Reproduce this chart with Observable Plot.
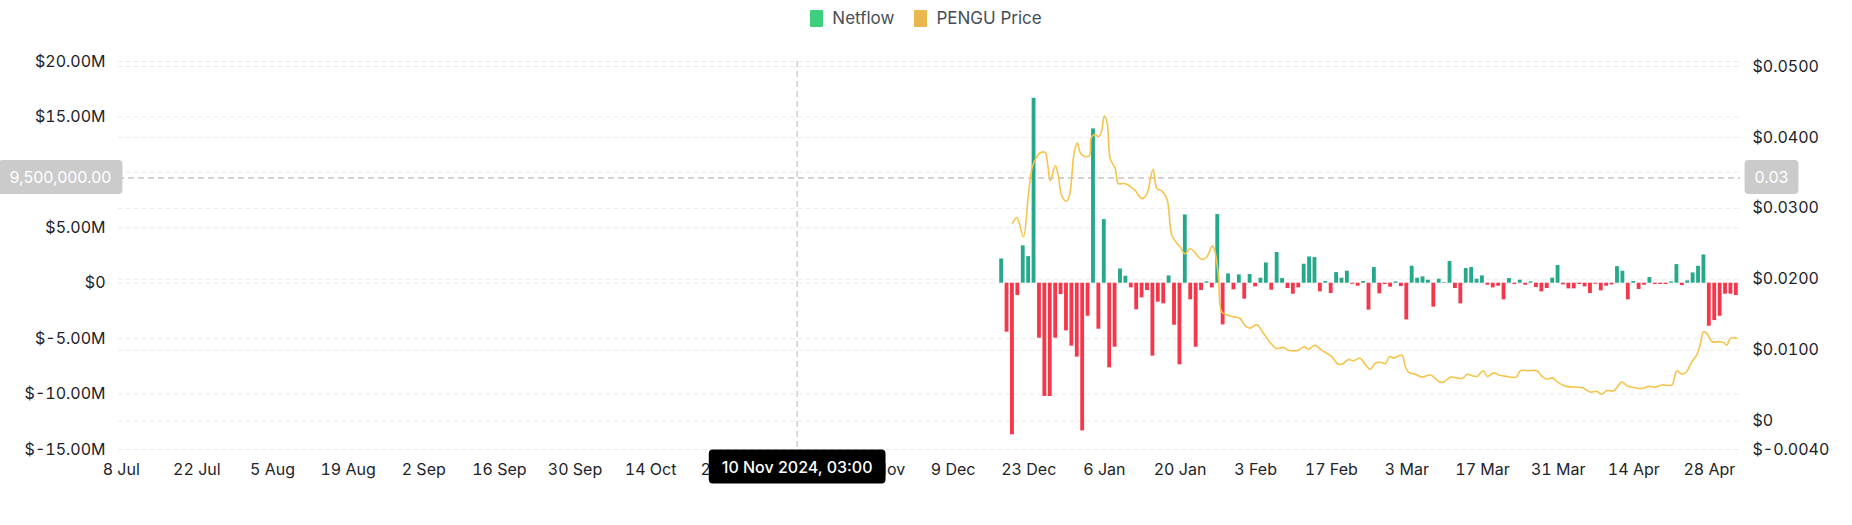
<!DOCTYPE html>
<html>
<head>
<meta charset="utf-8">
<script src="https://cdn.jsdelivr.net/npm/d3@7"></script>
<script src="https://cdn.jsdelivr.net/npm/@observablehq/plot@0.6"></script>
<style>
  body { margin: 0; background: #ffffff; font-family: Inter, "Noto Sans", sans-serif; }
  #legend { height: 36px; display: flex; justify-content: center; align-items: center; font-size: 17px; color: #474d57; }
  .item { display: flex; align-items: center; margin: 0 10px; }
  .sw { width: 13px; height: 17px; margin-right: 9px; border-radius: 1px; }
</style>
</head>
<body>
<div id="legend"></div>
<div id="chart"></div>
<script>
// ---------- data ----------
const seriesNames = ["Netflow", "PENGU Price"];
const seriesColors = ["#3dcf7e", "#e9b84c"];

const netflowStart = "2024-12-18"; // one bar per day from this date
const netflowMillions = [
  2.19, -4.42, -13.68, -1.11, 3.37, 2.40, 16.68, -4.96, -10.22, -10.22, -4.96, -1.02, -4.30, -5.68,
  -6.67, -13.32, -2.98, 13.92, -4.15, 5.74, -7.63, -5.77, 1.29, 0.63, -0.42, -2.40, -1.32, -0.66, -6.58, -1.71,
  -1.86, 0.66, -3.79, -7.36, 6.16, -1.50, -5.77, -0.66, 0.12, -0.42, 6.19, -3.76, 0.84, -0.60, 0.75,
  -1.44, 0.78, -0.33, 0.45, 1.83, -0.63, 2.77, 0.42, -0.48, -0.99, -0.42, 1.71, 2.37, 2.31, -0.78, 0.15,
  -0.93, 0.96, 0.45, 1.08, -0.09, -0.27, 0.15, -2.43, 1.41, -0.96, -0.12, -0.36,
  0.12, -0.30, -3.31, 1.53, 0.45, 0.57, 0.27, -2.16, 0.36, 0.06, 1.95, -0.48, -1.86, 1.32, 1.41, 0.36,
  0.66, -0.18, -0.42, -0.27, -1.50, 0.42, -0.12, 0.27, -0.18, 0.12, -0.39, -0.78, -0.48, 0.45, 1.59,
  -0.15, -0.51, -0.51, -0.12, -0.33, -0.93, -0.09, -0.69, -0.27, -0.15, 1.50, 1.08, -1.50, 0.15, -0.57,
  -0.18, 0.51, -0.12, -0.12, -0.12, 0.12, 1.68, -0.21, 0.21, 0.93, 1.53, 2.55, -3.88, -3.37, -2.98,
  -0.99, -0.99, -1.11
];

const priceTimes = [
  "2024-12-20T00", "2024-12-20T19", "2024-12-22T00", "2024-12-22T22", "2024-12-23T14", "2024-12-24T07",
  "2024-12-25T02", "2024-12-26T00", "2024-12-26T12", "2024-12-27T00", "2024-12-27T22", "2024-12-28T12",
  "2024-12-29T02", "2024-12-30T00", "2024-12-30T14", "2024-12-31T10", "2025-01-01T00", "2025-01-01T12",
  "2025-01-02T02", "2025-01-03T05", "2025-01-03T14", "2025-01-04T07", "2025-01-04T22", "2025-01-05T10",
  "2025-01-06T00", "2025-01-06T12", "2025-01-07T02", "2025-01-08T00", "2025-01-08T14", "2025-01-09T12",
  "2025-01-10T10", "2025-01-11T17", "2025-01-12T22", "2025-01-13T19", "2025-01-15T00", "2025-01-15T17",
  "2025-01-16T14", "2025-01-17T14", "2025-01-18T12", "2025-01-19T17", "2025-01-20T00", "2025-01-20T22",
  "2025-01-21T22", "2025-01-24T00", "2025-01-24T22", "2025-01-26T00", "2025-01-26T12", "2025-01-27T02",
  "2025-01-27T17", "2025-01-28T14", "2025-01-29T22", "2025-01-31T02", "2025-02-01T00", "2025-02-02T00",
  "2025-02-03T05", "2025-02-04T10", "2025-02-06T00", "2025-02-06T22", "2025-02-08T02", "2025-02-09T02",
  "2025-02-10T22", "2025-02-12T00", "2025-02-12T19", "2025-02-13T22", "2025-02-15T05", "2025-02-17T02",
  "2025-02-18T00", "2025-02-18T22", "2025-02-20T05", "2025-02-21T02", "2025-02-22T07", "2025-02-23T07",
  "2025-02-24T05", "2025-02-25T05", "2025-02-26T02", "2025-02-27T00", "2025-02-27T19", "2025-02-28T14",
  "2025-03-01T05", "2025-03-02T02", "2025-03-02T17", "2025-03-03T07", "2025-03-04T14", "2025-03-05T19",
  "2025-03-07T10", "2025-03-08T22", "2025-03-09T19", "2025-03-11T02", "2025-03-12T07", "2025-03-13T05",
  "2025-03-14T05", "2025-03-15T02", "2025-03-16T00", "2025-03-17T02", "2025-03-17T22", "2025-03-19T02",
  "2025-03-20T00", "2025-03-21T14", "2025-03-23T05", "2025-03-24T00", "2025-03-25T14", "2025-03-27T02",
  "2025-03-28T00", "2025-03-29T00", "2025-03-29T22", "2025-03-31T02", "2025-04-01T12", "2025-04-03T05",
  "2025-04-04T12", "2025-04-05T22", "2025-04-07T02", "2025-04-08T02", "2025-04-09T00", "2025-04-10T07",
  "2025-04-11T19", "2025-04-12T17", "2025-04-14T07", "2025-04-15T14", "2025-04-16T17", "2025-04-18T00",
  "2025-04-19T05", "2025-04-21T02", "2025-04-21T12", "2025-04-22T00", "2025-04-22T22", "2025-04-23T19",
  "2025-04-24T19", "2025-04-25T17", "2025-04-26T07", "2025-04-26T22", "2025-04-27T12", "2025-04-28T12",
  "2025-04-30T00", "2025-04-30T14", "2025-05-01T05", "2025-05-01T22", "2025-05-03T00"
];
const priceValues = [
  0.0279, 0.0287, 0.0260, 0.0318, 0.0356, 0.0370,
  0.0378, 0.0379, 0.0362, 0.0339, 0.0360, 0.0345,
  0.0318, 0.0310, 0.0320, 0.0379, 0.0392, 0.0379,
  0.0374, 0.0374, 0.0400, 0.0404, 0.0401, 0.0407,
  0.0430, 0.0421, 0.0370, 0.0356, 0.0335, 0.0335,
  0.0333, 0.0325, 0.0314, 0.0319, 0.0355, 0.0328,
  0.0325, 0.0313, 0.0262, 0.0248, 0.0246, 0.0236,
  0.0243, 0.0228, 0.0231, 0.0247, 0.0238, 0.0206,
  0.0154, 0.0150, 0.0147, 0.0145, 0.0135, 0.0131,
  0.0136, 0.0124, 0.0108, 0.0102, 0.0104, 0.0100,
  0.0100, 0.0105, 0.0101, 0.0107, 0.0100, 0.0091,
  0.0082, 0.0080, 0.0087, 0.0085, 0.0089, 0.0080,
  0.0073, 0.0082, 0.0083, 0.0081, 0.0091, 0.0089,
  0.0091, 0.0093, 0.0077, 0.0069, 0.0066, 0.0062,
  0.0065, 0.0056, 0.0055, 0.0062, 0.0061, 0.0060,
  0.0066, 0.0064, 0.0063, 0.0071, 0.0063, 0.0068,
  0.0065, 0.0063, 0.0062, 0.0071, 0.0071, 0.0071,
  0.0063, 0.0059, 0.0061, 0.0054, 0.0049, 0.0048,
  0.0047, 0.0041, 0.0042, 0.0038, 0.0043, 0.0043,
  0.0055, 0.0050, 0.0047, 0.0046, 0.0049, 0.0048,
  0.0051, 0.0051, 0.0061, 0.0071, 0.0066, 0.0070,
  0.0084, 0.0094, 0.0108, 0.0126, 0.0124, 0.0112,
  0.0112, 0.0111, 0.0107, 0.0117, 0.0117
];

// x tick labels (the one hidden under the crosshair readout is left out)
const xTickDates = [
  "2024-07-08", "2024-07-22", "2024-08-05", "2024-08-19", "2024-09-02", "2024-09-16", "2024-09-30",
  "2024-10-14", "2024-10-28", "2024-11-25", "2024-12-09", "2024-12-23", "2025-01-06",
  "2025-01-20", "2025-02-03", "2025-02-17", "2025-03-03", "2025-03-17", "2025-03-31", "2025-04-14",
  "2025-04-28"
];
const netflowGridM = [-15, -10, -5, 0, 5, 10, 15, 20];
const netflowLabelM = [-15, -10, -5, 0, 5, 15, 20]; // $10.00M is hidden under the readout box
const priceTicks = [-0.004, 0, 0.01, 0.02, 0.03, 0.04, 0.05];

const xDomain = ["2024-07-07T12:00Z", "2025-05-03T18:00Z"];
const netflowDomain = [-15e6, 20e6];
const priceDomain = [-0.004, 0.0507];

// crosshair readout
const crossTime = "2024-11-10T03:00Z";
const crossLabelX = "10 Nov 2024, 03:00";
const crossNetflow = 9.5e6;
const crossLabelLeft = "9,500,000.00";
const crossLabelRight = "0.03";

// ---------- helpers ----------
const green = "#26a98b", red = "#f6364a", lineColor = "#f6c44a";
const gridColor = "#ebebeb";
const textColor = "#1e2329";
const toV = p => netflowDomain[0] + (p - priceDomain[0]) / (priceDomain[1] - priceDomain[0]) * (netflowDomain[1] - netflowDomain[0]);
const fromV = v => priceDomain[0] + (v - netflowDomain[0]) / (netflowDomain[1] - netflowDomain[0]) * (priceDomain[1] - priceDomain[0]);
const fmtLeft = v => Math.abs(v) < 1 ? "$0" : "$" + (v / 1e6).toFixed(2) + "M";
const fmtRight = v => { const p = fromV(v); return Math.abs(p) < 1e-9 ? "$0" : "$" + p.toFixed(4); };

const start = new Date(netflowStart + "T00:00Z");
const bars = netflowMillions.map((m, i) => ({date: d3.utcDay.offset(start, i), value: m * 1e6}));
const price = priceTimes.map((t, i) => ({date: new Date(t + ":00Z"), price: priceValues[i]}));

// legend
const legend = d3.select("#legend");
seriesNames.forEach((n, i) => {
  const it = legend.append("div").attr("class", "item");
  it.append("div").attr("class", "sw").style("background", seriesColors[i]);
  it.append("span").text(n);
});

const chart = Plot.plot({
  width: 1852,
  height: 489,
  marginTop: 25,
  marginBottom: 76,
  marginLeft: 118,
  marginRight: 112,
  style: {fontFamily: "Inter, 'Noto Sans', sans-serif", fontSize: "16px", color: textColor, background: "#ffffff"},
  x: {type: "utc", domain: xDomain.map(d => new Date(d))},
  y: {domain: netflowDomain},
  marks: [
    Plot.gridY(netflowGridM.map(m => m * 1e6), {stroke: gridColor, strokeOpacity: 1, strokeDasharray: "5,3"}),
    Plot.ruleY(priceTicks.map(toV), {stroke: gridColor, strokeDasharray: "5,3"}),
    Plot.ruleY([crossNetflow], {stroke: "#c4c4c4", strokeWidth: 1.5, strokeDasharray: "6,4"}),
    Plot.ruleX([new Date(crossTime)], {stroke: "#c4c4c4", strokeWidth: 1.2, strokeDasharray: "6,4"}),
    Plot.rect(bars, {
      x1: d => d3.utcHour.offset(d.date, -8.5),
      x2: d => d3.utcHour.offset(d.date, 8.5),
      y1: 0,
      y2: "value",
      fill: d => d.value >= 0 ? green : red
    }),
    Plot.line(price, {x: "date", y: d => toV(d.price), stroke: lineColor, strokeWidth: 1.6, curve: "catmull-rom"}),
    Plot.axisY(netflowLabelM.map(m => m * 1e6), {anchor: "left", tickSize: 0, tickPadding: 13, tickFormat: fmtLeft, label: null, fontSize: 16}),
    Plot.axisY(priceTicks.map(toV), {anchor: "right", tickSize: 0, tickPadding: 12, tickFormat: fmtRight, label: null, fontSize: 16}),
    Plot.axisX(xTickDates.map(d => new Date(d + "T00:00Z")), {tickSize: 0, tickPadding: 14, tickFormat: d3.utcFormat("%-d %b"), label: null, fontSize: 16}),
    Plot.text([crossLabelLeft], {frameAnchor: "left", y: () => crossNetflow, dx: -58, text: d => d, fill: "#ffffff", fontSize: 16, textAnchor: "middle"}),
    Plot.text([crossLabelRight], {frameAnchor: "right", y: () => crossNetflow, dx: 31, text: d => d, fill: "#ffffff", fontSize: 16, textAnchor: "middle"}),
    Plot.text([crossLabelX], {frameAnchor: "bottom", x: () => new Date(crossTime), dy: 23, text: d => d, fill: "#ffffff", fontSize: 16, fontWeight: 500, textAnchor: "middle"})
  ]
});
document.getElementById("chart").appendChild(chart);

// boxes behind the crosshair readouts
const svg = d3.select(chart);
[[crossLabelLeft, "#cbcbcb", 11, 7], [crossLabelRight, "#cbcbcb", 10, 7], [crossLabelX, "#000000", 13, 7]].forEach(([label, col, px, py]) => {
  svg.selectAll("text").filter(function () { return this.textContent === label; }).each(function () {
    const b = this.getBBox();
    const r = d3.select(this.parentNode).insert("rect", () => this)
      .attr("x", b.x - px).attr("y", b.y - py)
      .attr("width", b.width + 2 * px).attr("height", b.height + 2 * py)
      .attr("rx", 4).attr("fill", col);
    const tr = this.getAttribute("transform");
    if (tr) r.attr("transform", tr);
  });
});
</script>
</body>
</html>
